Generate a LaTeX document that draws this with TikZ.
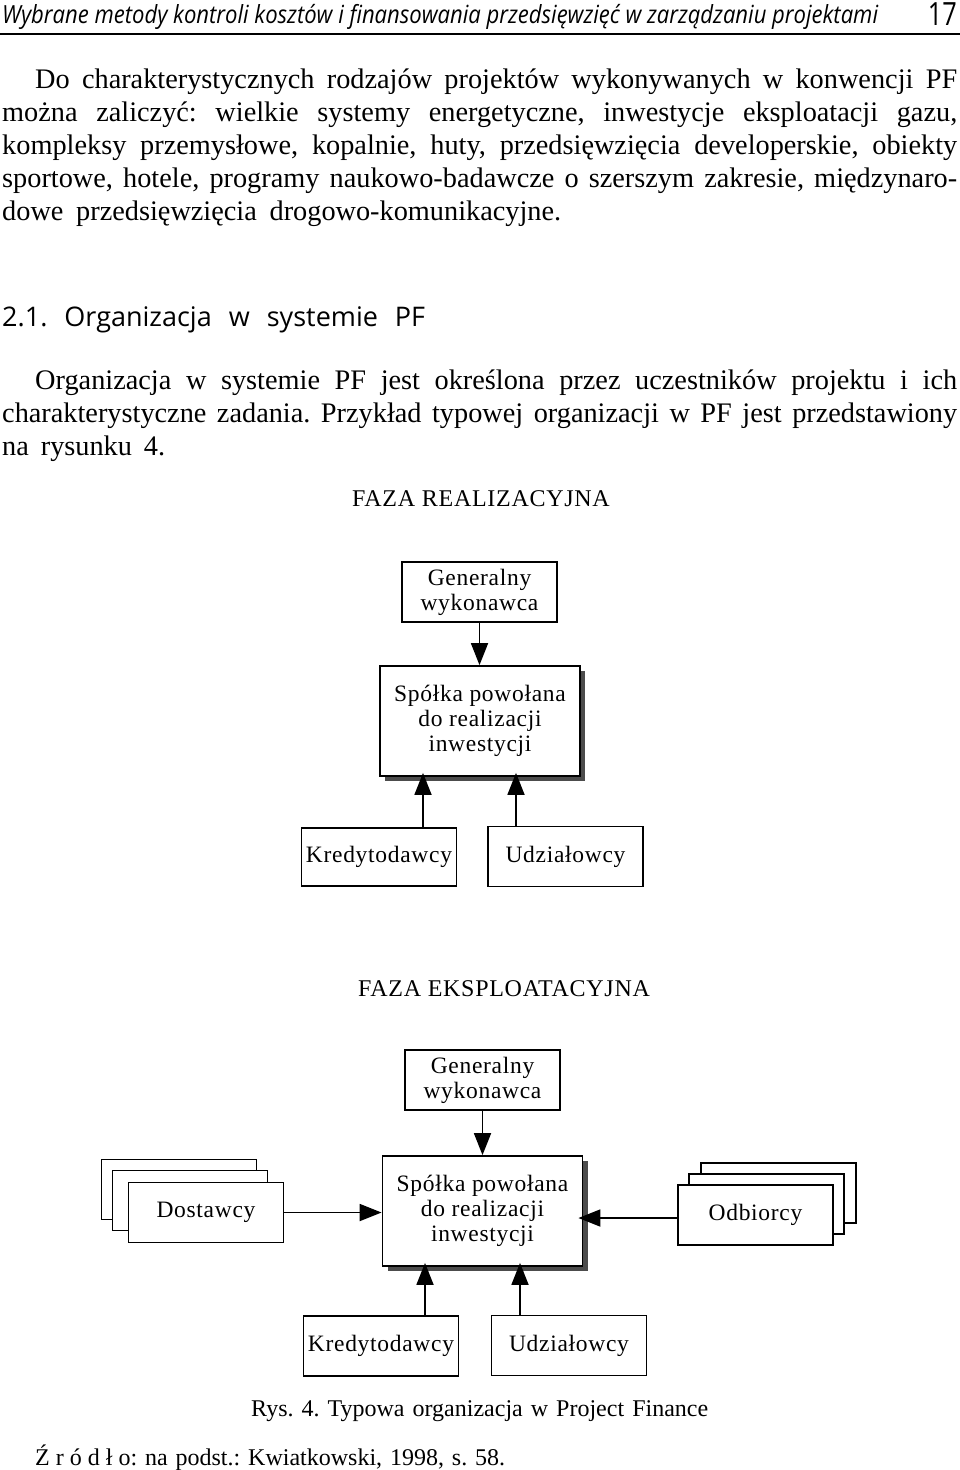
\documentclass[tikz,border=0pt]{standalone}
\usepackage{fontspec}
\setmainfont{Liberation Serif}
\newfontfamily\sansfont{Open Sans}
\newfontfamily\diagfont[LetterSpace=3]{Liberation Serif}
\usetikzlibrary{positioning,arrows.meta,shadows}
\frenchspacing

\tikzset{
  txt/.style={anchor=base west, inner sep=0pt, font=\fontsize{28.3}{33}\selectfont},
  box/.style={draw, line width=1.8pt, fill=white, minimum width=155pt,
    minimum height=60pt, inner sep=0pt, align=center,
    font=\diagfont\fontsize{23.5}{25}\selectfont},
  firm/.style={box, minimum width=200pt, minimum height=110pt,
    drop shadow={shadow xshift=5pt, shadow yshift=-5pt, fill=black!70, opacity=1}},
  faza/.style={inner sep=0pt, font=\diagfont\fontsize{24}{25}\selectfont},
  arr/.style={line width=1.8pt, -{Triangle[length=22pt,width=17pt]}},
}

\begin{document}
\begin{tikzpicture}[x=1pt, y=-1pt]
  \useasboundingbox[fill=white] (0,0) rectangle (960,1470);

  % header
  \node[anchor=base west, inner sep=0pt, font=\sansfont\itshape\fontsize{25}{30}\selectfont]
    (head) at (2,23) {\resizebox{876pt}{\height}{Wybrane metody kontroli kosztów i finansowania przedsięwzięć w zarządzaniu projektami}};
  \node[anchor=base east, inner sep=0pt, font=\sansfont\fontsize{32}{32}\selectfont]
    (page) at (957,25) {\resizebox{29pt}{\height}{17}};
  \draw[line width=2pt] (0,34) coordinate (rule-l) -- (960,34) coordinate (rule-r);

  % body text
  \foreach[count=\i] \x/\w/\y/\t in {
      35/922/88/{Do charakterystycznych rodzajów projektów wykonywanych w konwencji PF},
      2/955/121/{można zaliczyć: wielkie systemy energetyczne, inwestycje eksploatacji gazu,},
      2/955/154/{kompleksy przemysłowe, kopalnie, huty, przedsięwzięcia developerskie, obiekty},
      2/955/187/{sportowe, hotele, programy naukowo-badawcze o szerszym zakresie, międzynaro-},
      2/559/220/{dowe przedsięwzięcia drogowo-komunikacyjne.},
      35/922/389/{Organizacja w systemie PF jest określona przez uczestników projektu i ich},
      2/955/422/{charakterystyczne zadania. Przykład typowej organizacji w PF jest przedstawiony},
      2/163/455/{na rysunku 4.}} {
    \node[txt] (line-\i) at (\x,\y) {\makebox[\w pt][s]{\t}};
  }
  \node[txt, font=\sansfont\fontsize{27}{30}\selectfont] (sect) at (2,326)
    {\makebox[423pt][s]{2.1. Organizacja w systemie PF}};

  % faza realizacyjna
  \node[faza] (faza-R) at (481,499) {FAZA REALIZACYJNA};
  \node[box] (gen-R) at (479.5,592) {Generalny\\wykonawca};
  \node[firm] (firm-R) at (480,721) {Spółka powołana\\do realizacji\\inwestycji};
  \node[box, minimum height=58pt] (kred-R) at (379,857) {Kredytodawcy};
  \node[box] (udz-R) at (565.5,856.5) {Udziałowcy};
  \draw[arr] (gen-R.south) -- (gen-R.south |- firm-R.north);
  \draw[arr, shorten >=-4pt] ([xshift=44pt]kred-R.north) -- ([xshift=44pt]kred-R.north |- firm-R.south);
  \draw[arr, shorten >=-4pt] ([xshift=-49.5pt]udz-R.north) -- ([xshift=-49.5pt]udz-R.north |- firm-R.south);

  % faza eksploatacyjna
  \node[faza] (faza-E) at (504,989) {FAZA EKSPLOATACYJNA};
  \node[box] (gen-E) at (482.5,1080) {Generalny\\wykonawca};
  \node[firm] (firm-E) at (482.5,1211) {Spółka powołana\\do realizacji\\inwestycji};
  \foreach[count=\k] \dx/\dy in {-27/-23,-16/-12} {
    \node[box] (dost-\k) at (206+\dx,1212.5+\dy) {};
  }
  \node[box] (dost) at (206,1212.5) {Dostawcy};
  \foreach[count=\k] \dx/\dy in {23/-22,11/-11} {
    \node[box] (odb-\k) at (755.5+\dx,1215+\dy) {};
  }
  \node[box] (odb) at (755.5,1215) {Odbiorcy};
  \node[box] (kred-E) at (381,1346) {Kredytodawcy};
  \node[box] (udz-E) at (569,1345.5) {Udziałowcy};
  \draw[arr] (gen-E.south) -- (gen-E.south |- firm-E.north);
  \draw[arr] (dost.east) -- (dost.east -| firm-E.west);
  \draw[arr, shorten >=-5pt] ([yshift=-3pt]odb.west) -- ([yshift=-3pt]odb.west -| firm-E.east);
  \draw[arr, shorten >=-4pt] ([xshift=44pt]kred-E.north) -- ([xshift=44pt]kred-E.north |- firm-E.south);
  \draw[arr, shorten >=-4pt] ([xshift=-49pt]udz-E.north) -- ([xshift=-49pt]udz-E.north |- firm-E.south);

  % caption
  \node[txt, font=\fontsize{24}{28}\selectfont] (caption) at (251,1416)
    {\makebox[457pt][s]{Rys. 4. Typowa organizacja w Project Finance}};
  \node[txt, font=\fontsize{24}{28}\selectfont] (source) at (35,1465)
    {\makebox[470pt][s]{{\addfontfeature{LetterSpace=25}Źródło}: na podst.: Kwiatkowski, 1998, s. 58.}};
\end{tikzpicture}
\end{document}
